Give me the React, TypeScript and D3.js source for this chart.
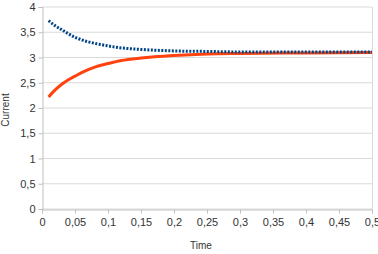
import React, { useEffect, useRef } from 'react';
import * as d3 from 'd3';

const times = [0.01, 0.02, 0.03, 0.04, 0.05, 0.06, 0.07, 0.08, 0.1, 0.12, 0.15, 0.2, 0.25, 0.3, 0.4, 0.5];
const blueSeries = [3.73, 3.63, 3.55, 3.47, 3.40, 3.35, 3.31, 3.28, 3.23, 3.19, 3.16, 3.13, 3.12, 3.11, 3.11, 3.11];
const orangeSeries = [2.22, 2.36, 2.47, 2.56, 2.63, 2.70, 2.76, 2.81, 2.88, 2.94, 2.99, 3.04, 3.07, 3.08, 3.09, 3.10];
const xTicks = [0, 0.05, 0.1, 0.15, 0.2, 0.25, 0.3, 0.35, 0.4, 0.45, 0.5];
const yTicks = [0, 0.5, 1, 1.5, 2, 2.5, 3, 3.5, 4];

const fmt = (v: number) => String(v).replace('.', ',');

const App: React.FC = () => {
  const ref = useRef<SVGSVGElement>(null);

  useEffect(() => {
    if (!ref.current) return;
    const svg = d3.select(ref.current);
    svg.selectAll('*').remove();

    const left = 42, right = 372, top = 7, bottom = 209;
    const x = d3.scaleLinear().domain([0, 0.5]).range([left, right]);
    const y = d3.scaleLinear().domain([0, 4]).range([bottom, top]);

    // gridlines
    svg.append('g')
      .selectAll('line')
      .data(yTicks)
      .join('line')
      .attr('x1', left).attr('x2', right)
      .attr('y1', d => y(d)).attr('y2', d => y(d))
      .attr('stroke', '#dadada').attr('stroke-width', 1);

    // right border
    svg.append('line')
      .attr('x1', right + 0.5).attr('x2', right + 0.5)
      .attr('y1', top).attr('y2', bottom)
      .attr('stroke', '#dadada');

    // y axis
    const yAxis = svg.append('g')
      .attr('transform', `translate(${left + 0.5},0)`)
      .call(d3.axisLeft(y).tickValues(yTicks).tickFormat(d => fmt(d as number)).tickSize(4).tickPadding(3));
    yAxis.select('.domain').attr('stroke', '#c0c0c0');
    yAxis.selectAll('.tick line').attr('stroke', '#c0c0c0');
    yAxis.selectAll('text').attr('fill', '#333').attr('font-size', 11).attr('font-family', 'Liberation Sans, Arial, sans-serif');

    // x axis
    const xAxis = svg.append('g')
      .attr('transform', `translate(0,${bottom + 0.5})`)
      .call(d3.axisBottom(x).tickValues(xTicks).tickFormat(d => fmt(d as number)).tickSize(4).tickPadding(5));
    xAxis.select('.domain').attr('stroke', '#c0c0c0');
    xAxis.selectAll('.tick line').attr('stroke', '#c0c0c0');
    xAxis.selectAll('text').attr('fill', '#333').attr('font-size', 11).attr('font-family', 'Liberation Sans, Arial, sans-serif');

    const line = d3.line<number>()
      .x((_, i) => x(times[i]))
      .y(d => y(d))
      .curve(d3.curveMonotoneX);

    svg.append('path')
      .datum(orangeSeries)
      .attr('d', line)
      .attr('fill', 'none')
      .attr('stroke', '#ff420e')
      .attr('stroke-width', 3);

    svg.append('path')
      .datum(blueSeries)
      .attr('d', line)
      .attr('fill', 'none')
      .attr('stroke', '#004586')
      .attr('stroke-width', 3)
      .attr('stroke-dasharray', '2,1.5');

    // axis titles
    svg.append('text')
      .attr('x', 201).attr('y', 249)
      .attr('text-anchor', 'middle')
      .attr('font-size', 10)
      .attr('fill', '#333')
      .attr('font-family', 'Liberation Sans, Arial, sans-serif')
      .text('Time');

    svg.append('text')
      .attr('transform', 'translate(9,110) rotate(-90)')
      .attr('text-anchor', 'middle')
      .attr('font-size', 10)
      .attr('fill', '#333')
      .attr('font-family', 'Liberation Sans, Arial, sans-serif')
      .text('Current');
  }, []);

  return (
    <svg
      ref={ref}
      width={378}
      height={254}
      style={{ position: 'absolute', left: 0, top: 0, background: '#fff' }}
    />
  );
};

export default App;
